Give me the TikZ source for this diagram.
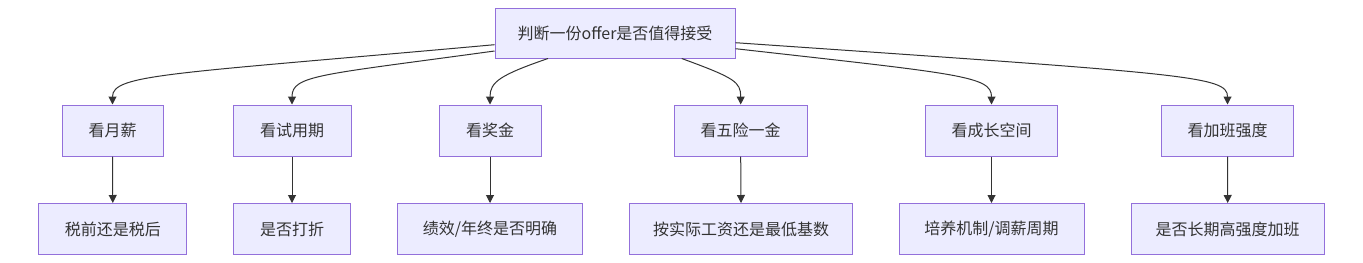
\documentclass[tikz,border=0pt]{standalone}
\usepackage{fontspec}
\setmainfont{Noto Sans CJK SC}
\usetikzlibrary{arrows.meta,calc}
\definecolor{boxfill}{HTML}{ECECFF}
\definecolor{boxline}{HTML}{9370DB}
\definecolor{txt}{HTML}{333333}
\begin{document}
\begin{tikzpicture}[x=0.75pt,y=-0.75pt,
  box/.style={draw=boxline,fill=boxfill,line width=0.75pt,text=txt,font=\fontsize{12}{14}\selectfont,inner sep=0pt,minimum height=38.25pt},
  link/.style={draw=txt,line width=0.75pt,-{Triangle[length=6pt,width=6pt]}}]
\useasboundingbox (0,0) rectangle (1363,262);
\node[box,minimum width=180pt,minimum height=37.5pt] (root) at (615,33) {判断一份offer是否值得接受};
% level 2
\node[box,minimum width=75.75pt] (m1) at (112.5,130.5) {看月薪};
\node[box,minimum width=88.5pt] (m2) at (292,130.5) {看试用期};
\node[box,minimum width=76.5pt] (m3) at (490,130.5) {看奖金};
\node[box,minimum width=99.75pt] (m4) at (740.7,130.5) {看五险一金};
\node[box,minimum width=99pt] (m5) at (991.5,130.5) {看成长空间};
\node[box,minimum width=99pt] (m6) at (1227.5,130.5) {看加班强度};
% level 3
\node[box,minimum width=111pt] (l1) at (112.8,229) {税前还是税后};
\node[box,minimum width=87.75pt] (l2) at (292,229) {是否打折};
\node[box,minimum width=138.75pt] (l3) at (490,229) {绩效/年终是否明确};
\node[box,minimum width=167.25pt] (l4) at (741,229) {按实际工资还是最低基数};
\node[box,minimum width=138.75pt] (l5) at (991.5,229) {培养机制/调薪周期};
\node[box,minimum width=144.75pt] (l6) at (1227.7,229) {是否长期高强度加班};
% curved links
\draw[link] ($(root.west)+(0,11.7)$) .. controls (170,74) and (112.5,74) .. (m1.north);
\draw[link] ($(root.west)+(0,18)$) .. controls (320,75) and (292,75) .. (m2.north);
\draw[link] ($(root.south)+(-67,0)$) .. controls (500,75) and (490,82) .. (m3.north);
\draw[link] ($(root.south)+(66.7,0)$) .. controls (735,78) and (740.7,82) .. (m4.north);
\draw[link] ($(root.east)+(0,15.7)$) .. controls (960,74) and (991.5,76) .. (m5.north);
\draw[link] ($(root.east)+(0,9.7)$) .. controls (1190,74) and (1227.5,76) .. (m6.north);
% straight links
\foreach \i in {1,...,6} {\draw[link] (m\i.south) -- (l\i.north);}
\end{tikzpicture}
\end{document}
